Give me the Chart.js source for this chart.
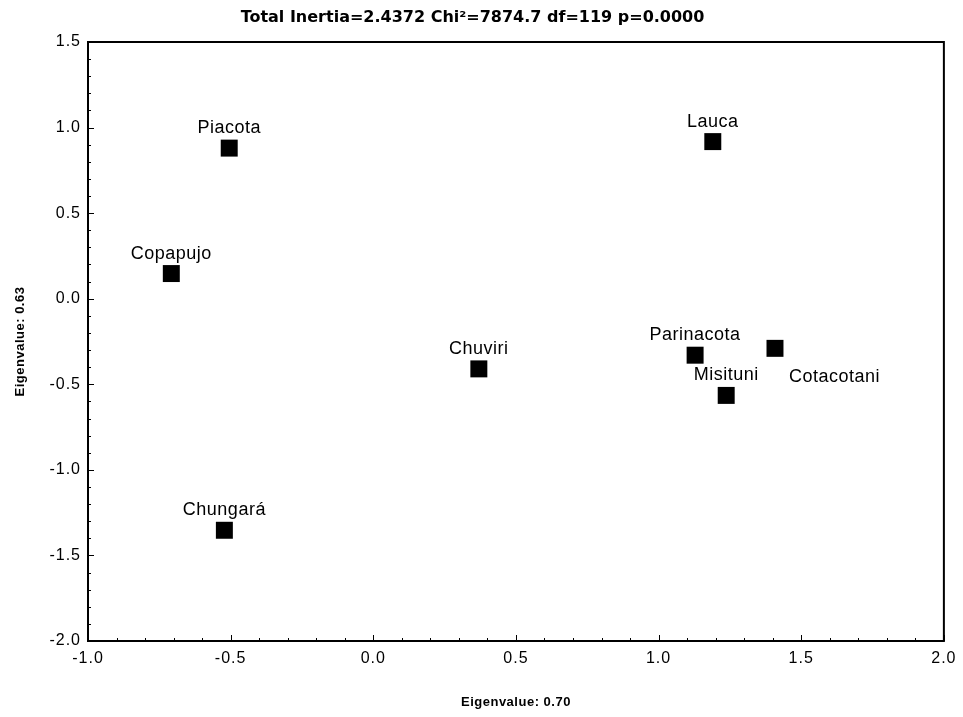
<!DOCTYPE html>
<html>
<head>
<meta charset="utf-8">
<script src="https://cdn.jsdelivr.net/npm/chart.js@4.4.1/dist/chart.umd.min.js"></script>
<style>
html,body{margin:0;padding:0;background:#fff;}
#wrap{width:963px;height:717px;}
</style>
</head>
<body>
<div id="wrap"><canvas id="c" width="963" height="717"></canvas></div>
<script>
const siteNames = ['Piacota','Lauca','Copapujo','Chuviri','Parinacota','Cotacotani','Misituni','Chungará'];
const dim1Values = [-0.505, 1.19, -0.708, 0.37, 1.128, 1.408, 1.237, -0.522];
const dim2Values = [0.88, 0.918, 0.147, -0.41, -0.33, -0.29, -0.565, -1.353];
const labelPlacement = ['above','above','above','above','above','belowRight','above','above'];
const xTickRange = [-1.0, 2.0, 0.5];
const yTickRange = [-2.0, 1.5, 0.5];
const chartTitle = 'Total Inertia=2.4372 Chi²=7874.7 df=119 p=0.0000';
const xAxisTitle = 'Eigenvalue: 0.70';
const yAxisTitle = 'Eigenvalue: 0.63';

const points = siteNames.map((n, i) => ({x: dim1Values[i], y: dim2Values[i]}));
const FONT = '"Liberation Sans", Arial, sans-serif';

function patchScale(s, titleSpacing, labelSpacing) {
  if (s._patchedSpacing) return;
  s._patchedSpacing = true;
  const origTitle = s.drawTitle;
  s.drawTitle = function () {
    const ctx = this.ctx;
    const prev = ctx.letterSpacing;
    ctx.letterSpacing = titleSpacing;
    origTitle.apply(this, arguments);
    ctx.letterSpacing = prev;
  };
  const origLabels = s.drawLabels;
  s.drawLabels = function () {
    const ctx = this.ctx;
    const prev = ctx.letterSpacing;
    ctx.letterSpacing = labelSpacing;
    origLabels.apply(this, arguments);
    ctx.letterSpacing = prev;
  };
}

const framePlugin = {
  id: 'frame',
  afterDraw(chart) {
    const {ctx, chartArea: a, scales: {x, y}} = chart;
    ctx.save();
    ctx.strokeStyle = '#000';
    ctx.lineWidth = 2;
    ctx.strokeRect(a.left, a.top, a.right - a.left, a.bottom - a.top);
    ctx.lineWidth = 1;
    ctx.beginPath();
    for (let v = xTickRange[0]; v <= xTickRange[1] + 1e-9; v += 0.1) {
      const px = Math.round(x.getPixelForValue(v)) + 0.5;
      const major = Math.abs(v / xTickRange[2] - Math.round(v / xTickRange[2])) < 1e-6;
      const len = major ? 6 : 3;
      ctx.moveTo(px, a.bottom);
      ctx.lineTo(px, a.bottom - len);
    }
    for (let v = yTickRange[0]; v <= yTickRange[1] + 1e-9; v += 0.1) {
      const py = Math.round(y.getPixelForValue(v)) + 0.5;
      const major = Math.abs(v / yTickRange[2] - Math.round(v / yTickRange[2])) < 1e-6;
      const len = major ? 6 : 3;
      ctx.moveTo(a.left, py);
      ctx.lineTo(a.left + len, py);
    }
    ctx.stroke();
    ctx.restore();
  }
};

const labelPlugin = {
  id: 'pointLabels',
  afterDatasetsDraw(chart) {
    const {ctx} = chart;
    const meta = chart.getDatasetMeta(0);
    ctx.save();
    ctx.letterSpacing = '0.5px';
    ctx.font = '18px ' + FONT;
    ctx.fillStyle = '#000';
    meta.data.forEach((el, i) => {
      if (labelPlacement[i] === 'belowRight') {
        ctx.textAlign = 'left';
        ctx.textBaseline = 'middle';
        ctx.fillText(siteNames[i], el.x + 14, el.y + 29);
      } else {
        ctx.textAlign = 'center';
        ctx.textBaseline = 'middle';
        ctx.fillText(siteNames[i], el.x, el.y - 20);
      }
    });
    ctx.restore();
  }
};

new Chart(document.getElementById('c'), {
  type: 'scatter',
  data: {
    datasets: [{
      data: points,
      pointStyle: 'rect',
      pointRadius: 12,
      pointHoverRadius: 12,
      backgroundColor: '#000',
      borderColor: '#000',
      borderWidth: 0
    }]
  },
  options: {
    responsive: false,
    animation: false,
    events: [],
    layout: {padding: {left: 0, right: 18, top: 0, bottom: 3}},
    plugins: {
      legend: {display: false},
      tooltip: {enabled: false},
      title: {
        display: true,
        text: chartTitle,
        color: '#000',
        font: {family: '"DejaVu Sans", sans-serif', size: 16, weight: 'bold'},
        padding: {top: 8, bottom: 14.8}
      }
    },
    scales: {
      x: {
        type: 'linear',
        min: xTickRange[0], max: xTickRange[1],
        afterFit(s) { s.height = 73; patchScale(s, '0.5px', '1px'); },
        ticks: {
          stepSize: xTickRange[2],
          color: '#000',
          padding: 8,
          font: {family: FONT, size: 16},
          callback: v => Number(v).toFixed(1)
        },
        grid: {display: false, drawTicks: false},
        border: {display: false},
        title: {
          display: true, text: xAxisTitle, color: '#000',
          font: {family: FONT, size: 13, weight: 'bold'},
          padding: {top: 4, bottom: 4}
        }
      },
      y: {
        type: 'linear',
        min: yTickRange[0], max: yTickRange[1],
        afterFit(s) { s.width = 88; patchScale(s, '0.5px', '1px'); },
        ticks: {
          stepSize: yTickRange[2],
          color: '#000',
          padding: 7,
          font: {family: FONT, size: 16},
          callback: v => Number(v).toFixed(1)
        },
        grid: {display: false, drawTicks: false},
        border: {display: false},
        title: {
          display: true, text: yAxisTitle, color: '#000',
          font: {family: FONT, size: 13, weight: 'bold'},
          padding: {top: 13, bottom: 4}
        }
      }
    }
  },
  plugins: [framePlugin, labelPlugin]
});
</script>
</body>
</html>
